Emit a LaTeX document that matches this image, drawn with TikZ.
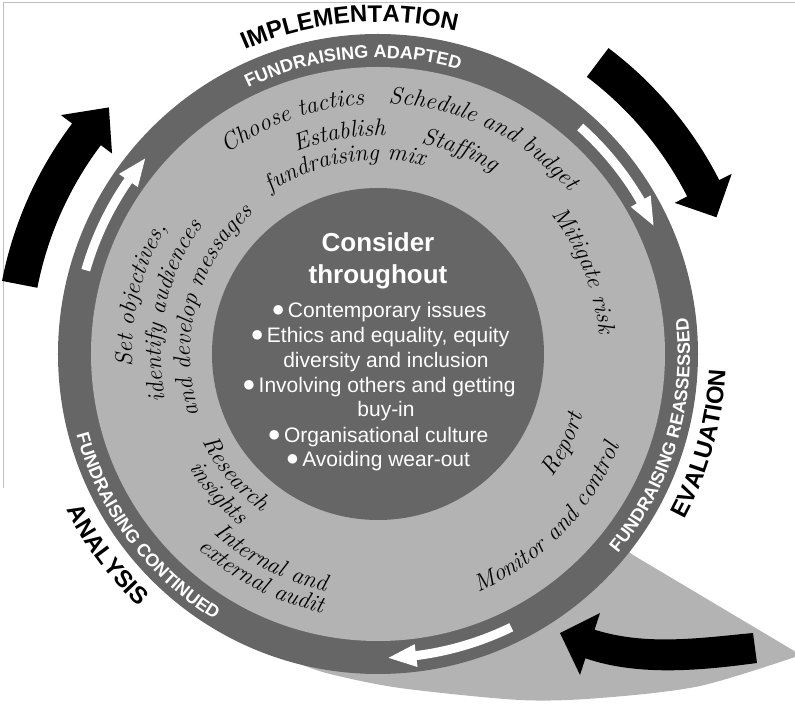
\documentclass[tikz,border=0pt]{standalone}
\usepackage{fontspec}
\newfontfamily\arialfont{Liberation Sans}
\usetikzlibrary{decorations.text}

\definecolor{ringdark}{RGB}{102,102,102}
\definecolor{ringlight}{RGB}{179,179,179}
\definecolor{framegray}{RGB}{190,190,190}

% fonts
\newcommand\handfont{\rmfamily\itshape\fontsize{24}{26}\selectfont}
\newcommand\bandfont{\arialfont\bfseries\fontsize{18}{20}\selectfont}
\newcommand\phasefont{\arialfont\bfseries\fontsize{24}{26}\selectfont}
\newcommand\dotmark{\raisebox{1pt}{\fontsize{22}{22}\selectfont ●}\hspace{3pt}}

% text on a clockwise / anticlockwise arc, centred on angle #1, radius #2
\newcommand\cwtext[3]{\path[decorate,decoration={text along path,text align=center,text={#3}}]
  ({#1+80}:{#2}) arc[start angle={#1+80},end angle={#1-80},radius={#2}];}
\newcommand\ccwtext[3]{\path[decorate,decoration={text along path,text align=center,text={#3}}]
  ({#1-80}:{#2}) arc[start angle={#1-80},end angle={#1+80},radius={#2}];}

% curved arrow round the centre: tail angle, head base angle, tip angle,
% mid radius, half shaft width, half head width, fill
\newcommand\ringarrow[7]{%
  \fill[#7] ({#1}:{#4+#5}) arc[start angle={#1},end angle={#2},radius={#4+#5}]
    -- ({#2}:{#4+#6}) -- ({#3}:{#4}) -- ({#2}:{#4-#6})
    -- ({#2}:{#4-#5}) arc[start angle={#2},end angle={#1},radius={#4-#5}] -- cycle;}

\begin{document}
\begin{tikzpicture}[x=1pt,y=1pt,
  inner/.style={text=white,inner sep=0pt,anchor=base},
  bigtxt/.style={inner,font=\arialfont\bfseries\fontsize{26}{30}\selectfont},
  bullettxt/.style={inner,font=\arialfont\fontsize{21}{24}\selectfont}]
\useasboundingbox (-378,-352) rectangle (417,354);

% frame edges
\draw[framegray,line width=1pt] (-374,-134) -- (-374,351) -- (417,351);

% spiral tail behind the wheel
\fill[ringlight] (0,0) -- (255,-201) -- (423,-301)
  -- plot[smooth] coordinates {(423,-301) (322,-332) (222,-344) (142,-346) (22,-334) (-48,-320) (-78,-310)}
  -- cycle;

% wheel
\fill[ringdark] (0,0) circle[radius=320];
\fill[ringlight] (0,0) circle[radius=287];
\fill[ringdark] (0,0) circle[radius=166];

% black arrows outside the wheel
\ringarrow{169}{143}{137.5}{365}{18}{32}{black}
\ringarrow{53}{27}{22}{365}{18}{32}{black}
\fill[black] (375,-279) .. controls (322,-284) and (268,-292) .. (216.6,-275.7)
  -- (222,-259) -- (182,-279) -- (202,-321) -- (207.4,-304.3)
  .. controls (262,-323) and (326,-316) .. (379,-309) -- cycle;

% white arrows in the ring
\ringarrow{164}{145.2}{140}{304}{4.5}{11.5}{white}
\ringarrow{48.3}{30.2}{25}{304}{4.5}{11.5}{white}
\ringarrow{-64}{-82.8}{-88}{304}{4.5}{11.5}{white}

% phase names
\cwtext{95}{332}{|\phasefont|IMPLEMENTATION}
\ccwtext{-15.5}{348}{|\phasefont|EVALUATION}
\ccwtext{216.6}{348}{|\phasefont|ANALYSIS}

% band labels
\cwtext{95}{296}{|\bandfont\color{white}|FUNDRAISING ADAPTED}
\ccwtext{-16.5}{312}{|\bandfont\color{white}|FUNDRAISING REASSESSED}
\ccwtext{216.7}{312}{|\bandfont\color{white}|FUNDRAISING CONTINUED}

% steps in the light ring
\cwtext{110}{250}{|\handfont|Choose tactics}
\cwtext{64}{251}{|\handfont|Schedule and budget}
\cwtext{100}{218}{|\handfont|Establish}
\cwtext{100}{194}{|\handfont|fundraising mix}
\cwtext{68}{215}{|\handfont|Staffing}
\cwtext{22}{222}{|\handfont|Mitigate risk}
\cwtext{166}{246}{|\handfont|Set objectives,}
\cwtext{168}{217}{|\handfont|identify audiences}
\cwtext{165}{188}{|\handfont|and develop messages}
\ccwtext{220}{196}{|\handfont|Research}
\ccwtext{221}{220}{|\handfont|insights}
\ccwtext{242.5}{243}{|\handfont|Internal and}
\ccwtext{242.5}{265}{|\handfont|external audit}
\ccwtext{-44}{258}{|\handfont|Monitor and control}
\ccwtext{-26}{214}{|\handfont|Report}

% centre
\node[bigtxt] (c1) at (0,102) {Consider};
\node[bigtxt] (c2) at (0,70) {throughout};
\node[bullettxt] (b1) at (1,36) {\dotmark Contemporary issues};
\node[bullettxt] (b2) at (2,11) {\dotmark Ethics and equality, equity};
\node[bullettxt] (b2b) at (8,-14) {diversity and inclusion};
\node[bullettxt] (b3) at (1,-39) {\dotmark Involving others and getting};
\node[bullettxt] (b3b) at (8,-63) {buy-in};
\node[bullettxt] (b4) at (0,-89) {\dotmark Organisational culture};
\node[bullettxt] (b5) at (0,-113) {\dotmark Avoiding wear-out};
\end{tikzpicture}
\end{document}
